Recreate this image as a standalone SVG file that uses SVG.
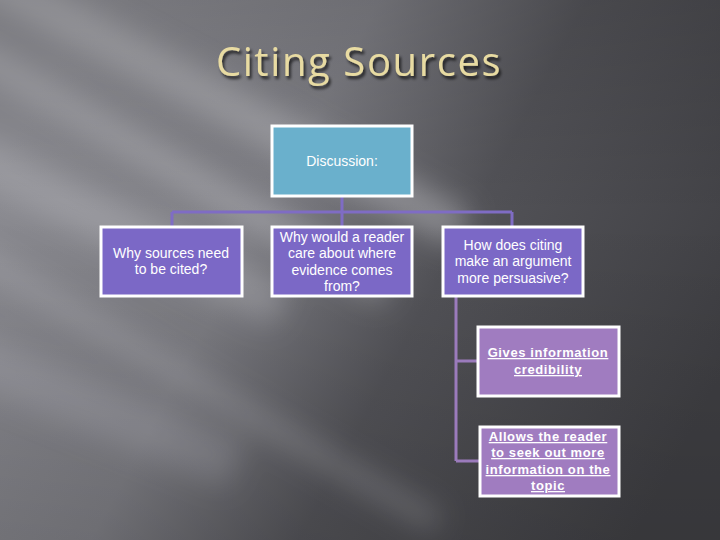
<svg xmlns="http://www.w3.org/2000/svg" width="720" height="540" viewBox="0 0 720 540">
<defs>
<linearGradient id="bg" x1="0" y1="0.3" x2="1" y2="0.7">
<stop offset="0" stop-color="#8a8a90"/>
<stop offset="0.35" stop-color="#7c7c82"/>
<stop offset="0.6" stop-color="#525257"/>
<stop offset="1" stop-color="#3e3e42"/>
</linearGradient>
<linearGradient id="vert" x1="0" y1="0" x2="0" y2="1">
<stop offset="0" stop-color="#000" stop-opacity="0.12"/>
<stop offset="0.4" stop-color="#000" stop-opacity="0"/>
<stop offset="1" stop-color="#000" stop-opacity="0.12"/>
</linearGradient>
<filter id="blur" x="-50%" y="-50%" width="200%" height="200%"><feGaussianBlur stdDeviation="14"/></filter>
<filter id="shadow" x="-10%" y="-10%" width="120%" height="140%"><feDropShadow dx="2" dy="3" stdDeviation="1.5" flood-color="#000" flood-opacity="0.7"/></filter>
<style>
.box{stroke:#fff;stroke-width:3}
.q{fill:#7b68c6}
.a{fill:#a07cc0}
.t{font-family:"Liberation Sans",Arial,sans-serif;font-size:14px;fill:#fff;text-anchor:middle}
.u{font-family:"Liberation Sans",Arial,sans-serif;font-size:13px;font-weight:bold;fill:#fff;text-anchor:middle;text-decoration:underline;letter-spacing:0.6px}
.c{stroke:#7f6cc4;stroke-width:3;fill:none}
.c2{stroke:#9b7bbc;stroke-width:3;fill:none}
.s{fill:#c0c0c6}
</style>
</defs>
<rect width="720" height="540" fill="url(#bg)"/>
<g filter="url(#blur)">
<rect class="s" x="-100" y="-20" width="560" height="40" opacity="0.45" transform="rotate(28 0 120)"/>
<rect class="s" x="-100" y="60" width="520" height="30" opacity="0.4" transform="rotate(30 0 120)"/>
<rect class="s" x="-60" y="150" width="360" height="45" opacity="0.35" transform="rotate(26 0 200)"/>
<rect class="s" x="-80" y="250" width="620" height="22" opacity="0.3" transform="rotate(30 0 200)"/>
<rect class="s" x="-80" y="340" width="360" height="50" opacity="0.25" transform="rotate(22 0 300)"/>
</g>
<rect width="720" height="540" fill="url(#vert)"/>
<text x="359" y="76" font-family="Open Sans, 'DejaVu Sans', sans-serif" font-size="40" letter-spacing="1.6" fill="#e8dba2" text-anchor="middle" filter="url(#shadow)">Citing Sources</text>
<g id="connectors">
<path class="c" d="M342,196 V226 M172,212 H512 M172,212 V226 M512,212 V226"/>
<path class="c2" d="M456,296 V461 M456,361 H477 M456,461 H479"/>
</g>
<g id="discussion">
<rect class="box" x="272" y="126" width="140" height="70" fill="#6ab0cc"/>
<text class="t" x="342" y="166">Discussion:</text>
</g>
<g id="why-cited">
<rect class="box q" x="101" y="227" width="141" height="69"/>
<text class="t" x="171" y="258">Why sources need</text>
<text class="t" x="171" y="274">to be cited?</text>
</g>
<g id="why-care">
<rect class="box q" x="272" y="227" width="140" height="69"/>
<text class="t" x="342" y="242">Why would a reader</text>
<text class="t" x="342" y="258">care about where</text>
<text class="t" x="342" y="275">evidence comes</text>
<text class="t" x="342" y="291">from?</text>
</g>
<g id="how-persuasive">
<rect class="box q" x="443" y="227" width="140" height="69"/>
<text class="t" x="513" y="250">How does citing</text>
<text class="t" x="513" y="266">make an argument</text>
<text class="t" x="513" y="283">more persuasive?</text>
</g>
<g id="credibility">
<rect class="box a" x="478" y="327" width="141" height="69"/>
<text class="u" x="548" y="357">Gives information</text>
<text class="u" x="548" y="374">credibility</text>
</g>
<g id="seek-out">
<rect class="box a" x="480" y="427" width="139" height="69"/>
<text class="u" x="548" y="441">Allows the reader</text>
<text class="u" x="548" y="457">to seek out more</text>
<text class="u" x="548" y="474">information on the</text>
<text class="u" x="548" y="490">topic</text>
</g>
</svg>
